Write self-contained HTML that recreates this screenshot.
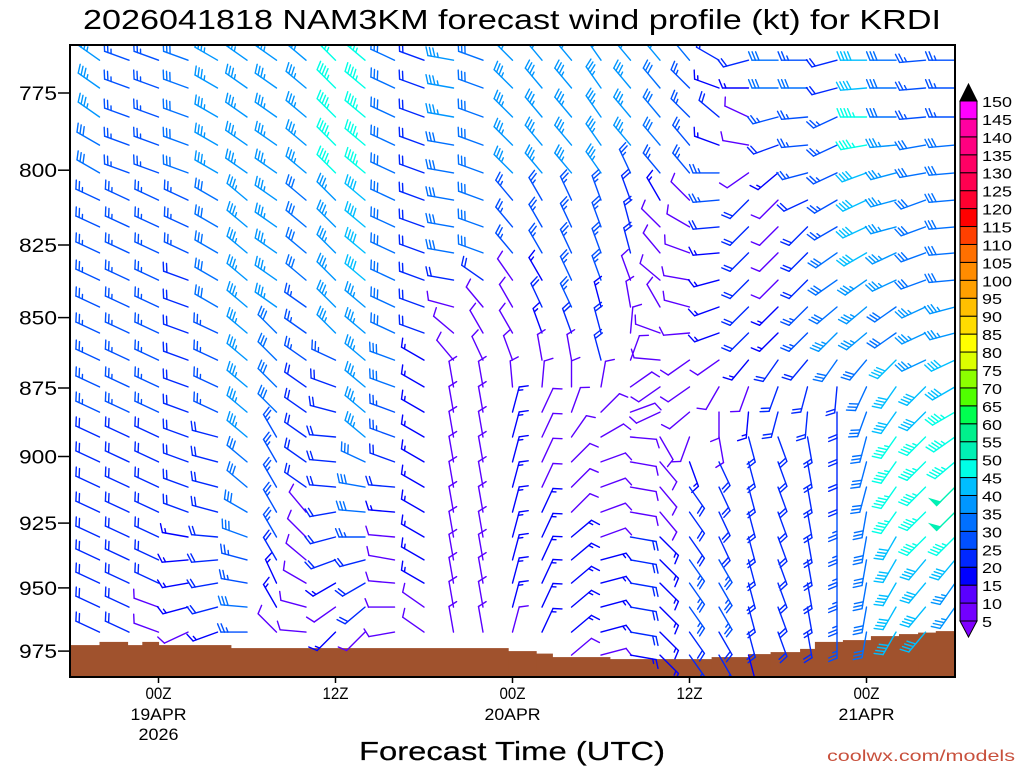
<!DOCTYPE html>
<html><head><meta charset="utf-8"><style>
html,body{margin:0;padding:0;background:#fff;}
svg{display:block;font-family:"Liberation Sans",sans-serif;}
</style></head><body>
<svg id="chart" width="1024" height="768" viewBox="0 0 1024 768" xmlns="http://www.w3.org/2000/svg">
<rect x="0" y="0" width="1024" height="768" fill="#fff"/>
<text x="512" y="29" text-anchor="middle" font-size="28" textLength="858" lengthAdjust="spacingAndGlyphs" fill="#000">2026041818 NAM3KM forecast wind profile (kt) for KRDI</text>
<defs><clipPath id="plotclip"><rect x="70" y="45" width="885" height="632"/></clipPath></defs>
<g id="terrain" clip-path="url(#plotclip)"></g>
<g id="barbs" clip-path="url(#plotclip)"></g>
<rect x="70" y="45" width="885" height="632" fill="none" stroke="#000" stroke-width="2"/>
<g id="yaxis"></g>
<g id="xaxis"></g>
<g id="colorbar"></g>
<text x="512" y="760" text-anchor="middle" font-size="26" textLength="306" lengthAdjust="spacingAndGlyphs" fill="#000" stroke="#000" stroke-width="0.2">Forecast Time (UTC)</text>
<text x="1015" y="761" text-anchor="end" font-size="16" textLength="188" lengthAdjust="spacingAndGlyphs" fill="#c8503c">coolwx.com/models</text>
</svg>
<script>
// ---- data ----
const levels = [764.6,773.4,782.7,791.8,800.9,809.9,818.9,827.7,837.0,846.3,855.4,865.0,874.6,883.7,892.8,902.0,911.4,920.8,930.3,939.1,948.1,957.5,967.4,976.6];
const yTickLabels = [775,800,825,850,875,900,925,950,975];
const xTickHours = [6,18,30,42,54];
const xTickLine1 = ["00Z","12Z","00Z","12Z","00Z"];
const xTickLine2 = ["19APR","","20APR","","21APR"];
const xTickLine3 = ["2026","","","",""];
const colHours = [2,4,6,8,10,12,14,16,18,20,22,24,26,28,30,32,34,36,38,40,42,44,46,48,50,52,54,56,58,60];
// per column: 24 levels, "dir/spd" (kt), "-" = missing
const winds = [
"305/35 305/35 305/35 300/30 300/30 295/25 295/25 295/25 295/25 295/25 295/25 295/25 295/25 295/25 295/20 295/20 295/20 295/20 295/20 295/20 295/20 295/20 295/20 -",
"290/25 290/25 290/25 290/25 290/25 295/25 295/25 295/25 295/25 295/25 295/25 295/25 295/25 295/25 295/20 295/20 295/20 295/20 295/20 295/20 295/20 295/20 295/20 -",
"290/25 290/25 290/25 290/25 290/25 295/25 295/25 295/25 295/25 295/25 295/25 295/25 295/25 295/25 295/20 295/20 295/20 295/20 295/20 295/20 295/20 290/10 290/10 -",
"290/30 290/30 290/30 290/30 290/30 295/25 295/25 295/25 290/20 290/20 290/20 290/20 290/20 290/20 290/20 290/20 290/20 290/20 280/15 265/15 260/15 255/15 245/10 -",
"300/35 300/35 300/35 300/35 300/35 300/30 300/30 300/30 300/30 300/30 295/25 295/25 295/25 295/25 285/20 285/20 285/20 285/20 275/20 265/20 260/20 255/20 250/15 -",
"305/35 305/35 305/35 305/35 305/35 310/35 310/35 310/35 310/35 310/35 310/35 310/35 310/35 310/35 310/35 310/30 310/30 300/30 290/30 285/25 280/25 275/30 270/25 -",
"305/35 305/35 305/35 305/35 305/35 305/35 305/35 305/35 305/35 305/35 315/30 315/30 315/30 315/30 330/25 330/25 330/25 330/25 330/25 330/20 335/15 330/15 315/10 -",
"310/35 310/35 310/35 310/35 310/35 310/30 310/30 310/30 310/30 305/25 305/25 305/25 305/20 305/20 305/20 305/20 305/20 320/10 315/10 310/10 300/10 285/10 275/10 -",
"315/45 315/45 315/45 315/45 315/45 315/35 315/35 315/35 315/35 315/35 315/35 295/25 290/20 285/20 275/20 275/20 275/20 260/20 255/20 250/20 240/15 235/10 225/15 -",
"310/45 310/45 310/45 310/45 310/45 310/40 310/40 310/40 310/40 310/35 310/35 310/35 310/35 310/35 310/35 295/30 280/30 275/30 270/25 255/20 240/20 230/20 225/10 -",
"295/30 295/30 295/30 295/30 295/30 295/30 295/30 295/30 295/30 295/30 295/30 290/30 290/30 290/25 290/25 290/20 275/20 275/15 275/10 280/10 275/10 270/10 260/10 -",
"290/20 290/20 290/20 290/20 290/20 290/20 290/20 290/20 290/20 290/20 290/20 300/15 300/15 300/15 300/15 300/15 300/15 300/15 300/15 300/15 300/15 305/10 305/10 -",
"280/35 280/35 280/35 280/30 280/30 280/30 280/30 280/30 280/20 285/10 310/10 320/10 350/10 350/10 350/10 350/10 350/10 350/10 350/10 350/10 350/10 350/10 350/10 -",
"290/30 290/30 290/30 290/30 290/30 290/30 290/30 290/30 305/20 320/10 330/10 335/10 350/10 350/10 350/10 350/10 350/10 350/10 350/10 350/10 350/10 350/10 350/10 -",
"315/35 315/35 315/35 315/35 315/35 320/25 320/25 320/25 325/10 330/10 330/10 340/10 355/10 15/15 15/15 15/15 15/15 15/15 15/15 15/15 15/15 15/15 15/10 -",
"320/35 320/35 320/35 320/35 320/35 330/25 330/25 330/25 330/15 335/20 340/15 350/10 5/10 25/10 25/10 25/10 25/10 25/15 25/15 25/15 25/15 25/15 25/15 -",
"320/35 320/35 320/35 320/35 320/35 335/25 335/25 335/25 335/25 335/25 340/20 350/10 0/10 20/10 35/10 45/10 45/10 45/10 50/15 50/15 50/15 50/15 50/15 50/10",
"325/35 325/35 325/35 325/35 325/35 340/25 340/25 340/25 340/25 345/15 345/20 345/20 10/10 45/10 60/10 70/10 70/10 70/10 70/10 75/15 75/15 75/15 75/15 75/10",
"320/35 320/35 320/35 320/35 335/25 340/20 345/20 345/20 340/10 350/10 5/10 20/10 55/10 70/10 95/10 100/10 100/10 100/10 100/20 100/20 100/20 100/20 100/20 100/15",
"320/35 320/30 320/30 320/30 320/25 330/15 315/10 320/10 310/10 330/10 290/10 275/10 235/10 245/10 150/10 140/10 140/10 140/10 135/15 135/15 135/15 135/15 135/15 135/15",
"320/30 315/25 315/25 320/25 320/25 315/10 300/10 290/10 280/10 285/10 265/10 235/10 235/10 230/10 200/10 160/15 145/20 145/20 145/20 145/25 145/25 145/25 145/20 145/20",
"300/20 290/15 310/20 290/15 270/25 265/25 265/20 265/15 255/15 250/15 250/15 235/10 210/10 180/10 170/10 155/20 155/20 155/20 155/20 150/25 150/25 150/25 150/20 150/20",
"255/20 270/15 295/10 280/10 235/10 225/20 225/20 225/20 225/20 225/20 225/20 220/15 200/10 185/15 165/20 165/20 165/20 165/20 165/20 165/20 165/20 165/20 165/20 165/15",
"270/30 270/30 255/25 250/20 230/15 225/10 225/10 225/10 225/10 225/15 225/15 215/20 200/20 195/20 160/20 160/20 160/20 160/20 160/20 160/20 160/20 160/20 160/20 -",
"270/25 270/30 265/25 265/25 255/25 245/20 225/20 225/20 225/20 225/25 225/25 220/20 195/20 185/20 170/20 170/20 170/20 170/20 170/20 170/20 170/20 170/20 170/20 -",
"255/20 255/20 245/25 245/25 245/25 240/25 240/25 235/30 235/30 230/30 225/35 215/30 185/20 180/20 180/20 180/20 180/20 180/25 180/25 180/25 180/25 180/25 180/25 -",
"270/40 265/40 270/45 260/45 250/40 245/40 245/40 240/40 235/35 230/35 230/35 220/30 205/30 200/30 195/30 195/30 195/30 190/30 190/30 190/30 190/30 190/30 190/30 -",
"270/30 270/30 270/30 265/35 255/35 255/35 255/35 245/35 245/35 235/30 235/30 225/40 215/40 215/40 215/45 215/45 215/45 215/45 210/40 210/40 210/40 210/40 210/40 -",
"265/25 265/25 265/25 260/30 260/30 250/30 250/30 250/30 250/30 245/35 245/35 245/35 225/40 225/40 225/45 225/45 225/45 225/45 225/45 220/40 220/40 220/40 220/40 -",
"270/25 270/25 270/25 265/30 265/30 265/30 265/30 265/30 265/30 255/35 255/35 245/40 240/40 240/45 235/45 230/45 225/50 225/50 225/45 220/40 215/35 215/35 - -"
];
// terrain: [startHour, endHour, surface pressure hPa]
const terrainStart = [0,2,3.9,4.9,6,10.9,29.7,31.6,32.7,36.6,43.5,46,47.5,49.5,50.5,52.4,54.3,56.2,57.5,58.7];
const terrainEnd   = [2,3.9,4.9,6,10.9,29.7,31.6,32.7,36.6,43.5,46,47.5,49.5,50.5,52.4,54.3,56.2,57.5,58.7,60.5];
const terrainPres  = [972.6,971.3,972.6,971.3,972.6,973.8,975.0,976.0,977.4,978.2,977.4,976.2,975.4,974.1,971.3,970.6,969.0,968.2,967.6,967.0];
const cbarValues = [5,10,15,20,25,30,35,40,45,50,55,60,65,70,75,80,85,90,95,100,105,110,115,120,125,130,135,140,145,150];
const cbarColors = ["#7300ff","#5a00ff","#0000ff","#0028ff","#0050ff","#0070ff","#0096ff","#00beff","#00ffe6","#00f0b4","#00f08c","#00ff50","#50ff00","#8cff00","#dcff00","#ffff00","#ffdc00","#ffc000","#ffa000","#ff8c00","#ff7000","#ff4000","#ff0000","#ff0030","#ff0050","#ff0064","#ff0080","#ff00a0","#ff00ff"];

// ---- scales ----
const NS = "http://www.w3.org/2000/svg";
function yScale(p){ return 93 + 2431*Math.log(p/775); }
function xScale(h){ return 70 + 14.75*h; }
function mk(tag, attrs, parent){ const e=document.createElementNS(NS,tag); for(const k in attrs) e.setAttribute(k, attrs[k]); parent.appendChild(e); return e; }
function speedColor(s){ let i=Math.floor((s+2-5)/5); if(i<0) i=0; if(i>=cbarColors.length) return "#000"; return cbarColors[i]; }

// ---- terrain ----
const tg = document.getElementById('terrain');
for(let i=0;i<terrainPres.length;i++){
  const x0=xScale(terrainStart[i]), x1=xScale(terrainEnd[i]), y0=yScale(terrainPres[i]);
  const r = mk('rect',{x:x0.toFixed(1),y:y0.toFixed(1),width:(x1-x0+0.6).toFixed(1),height:(680-y0).toFixed(1),fill:'#a0522d'},tg);
  
  
}

// ---- barbs ----
const bg = document.getElementById('barbs');
function drawBarb(x,y,dir,spd,parent){
  const g = mk('g',{stroke:speedColor(spd),fill:speedColor(spd),'stroke-width':'1.4','stroke-linecap':'round'},parent);
  
  
  const r = dir*Math.PI/180;
  const ux=Math.sin(r), uy=-Math.cos(r);
  const px=-uy, py=ux;
  let fx=px*0.92+ux*0.38, fy=py*0.92+uy*0.38; const fn=Math.hypot(fx,fy); fx/=fn; fy/=fn;
  const L=26, F=9;
  mk('line',{x1:x.toFixed(1),y1:y.toFixed(1),x2:(x+ux*L).toFixed(1),y2:(y+uy*L).toFixed(1)},g);
  let s=Math.round(spd/5)*5;
  let n50=Math.floor(s/50); s-=n50*50; let n10=Math.floor(s/10); s-=n10*10; const n5=s>=5;
  let pos=L;
  for(let i=0;i<n50;i++){
    const ax=x+ux*pos, ay=y+uy*pos, bx=x+ux*(pos-5), by=y+uy*(pos-5);
    mk('polygon',{points:`${ax.toFixed(1)},${ay.toFixed(1)} ${(ax+px*F).toFixed(1)},${(ay+py*F).toFixed(1)} ${bx.toFixed(1)},${by.toFixed(1)}`},g);
    pos-=6;
  }
  for(let i=0;i<n10;i++){
    const ax=x+ux*pos, ay=y+uy*pos;
    mk('line',{x1:ax.toFixed(1),y1:ay.toFixed(1),x2:(ax+fx*F).toFixed(1),y2:(ay+fy*F).toFixed(1)},g);
    pos-=3.5;
  }
  if(n5){
    if(n50===0&&n10===0) pos-=3.5;
    const ax=x+ux*pos, ay=y+uy*pos;
    mk('line',{x1:ax.toFixed(1),y1:ay.toFixed(1),x2:(ax+fx*F*0.5).toFixed(1),y2:(ay+fy*F*0.5).toFixed(1)},g);
  }
}
winds.forEach((col,ci)=>{
  const cells=col.trim().split(/\s+/);
  cells.forEach((c,li)=>{
    if(c==='-'||li>=levels.length) return;
    const [d,s]=c.split('/').map(Number);
    drawBarb(xScale(colHours[ci]), yScale(levels[li]), d, s, bg);
  });
});

// ---- y axis ----
const ya=document.getElementById('yaxis');
yTickLabels.forEach(p=>{
  const y=yScale(p);
  const t=mk('line',{x1:58,y1:y.toFixed(1),x2:70,y2:y.toFixed(1),stroke:'#000','stroke-width':'1.5'},ya);
  
  
  const tx=mk('text',{x:57,y:(y+7).toFixed(1),'text-anchor':'end','font-size':'19',textLength:'38',lengthAdjust:'spacingAndGlyphs',fill:'#000'},ya);
  tx.textContent=String(p);
  
  
});

// ---- x axis ----
const xa=document.getElementById('xaxis');
xTickHours.forEach((h,i)=>{
  const x=xScale(h);
  const t=mk('line',{x1:x.toFixed(1),y1:677,x2:x.toFixed(1),y2:683,stroke:'#000','stroke-width':'1.5'},xa);
  
  
  [[xTickLine1[i],699,26],[xTickLine2[i],720,56],[xTickLine3[i],740,40]].forEach(([s,y,w])=>{
    if(!s) return;
    const tx=mk('text',{x:x.toFixed(1),y:y,'text-anchor':'middle','font-size':'17',textLength:String(w),lengthAdjust:'spacingAndGlyphs',fill:'#000'},xa);
    tx.textContent=s;
    
    
  });
});

// ---- colorbar ----
const cb=document.getElementById('colorbar');
const cTop=101, cBot=621, cX=960, cW=17, n=cbarColors.length, bh=(cBot-cTop)/n;
const up=mk('polygon',{points:`${cX},${cTop} ${cX+cW/2},${cTop-17} ${cX+cW},${cTop}`,fill:'#000',stroke:'#000','stroke-width':'1'},cb);


const dn=mk('polygon',{points:`${cX},${cBot} ${cX+cW/2},${cBot+16} ${cX+cW},${cBot}`,fill:'#8000ff',stroke:'#000','stroke-width':'1'},cb);


cbarColors.forEach((c,i)=>{
  const y=cBot-(i+1)*bh;
  const r=mk('rect',{x:cX,y:y.toFixed(2),width:cW,height:bh.toFixed(2),fill:c,stroke:'#000','stroke-width':'1'},cb);
  
  
});
cbarValues.forEach((v,i)=>{
  const y=cBot-i*bh;
  const w = v>=100?30:(v>=10?20:10);
  const tx=mk('text',{x:982,y:(y+6).toFixed(1),'font-size':'15',textLength:String(w),lengthAdjust:'spacingAndGlyphs',fill:'#000'},cb);
  tx.textContent=String(v);
  
  
});
</script>
</body></html>
